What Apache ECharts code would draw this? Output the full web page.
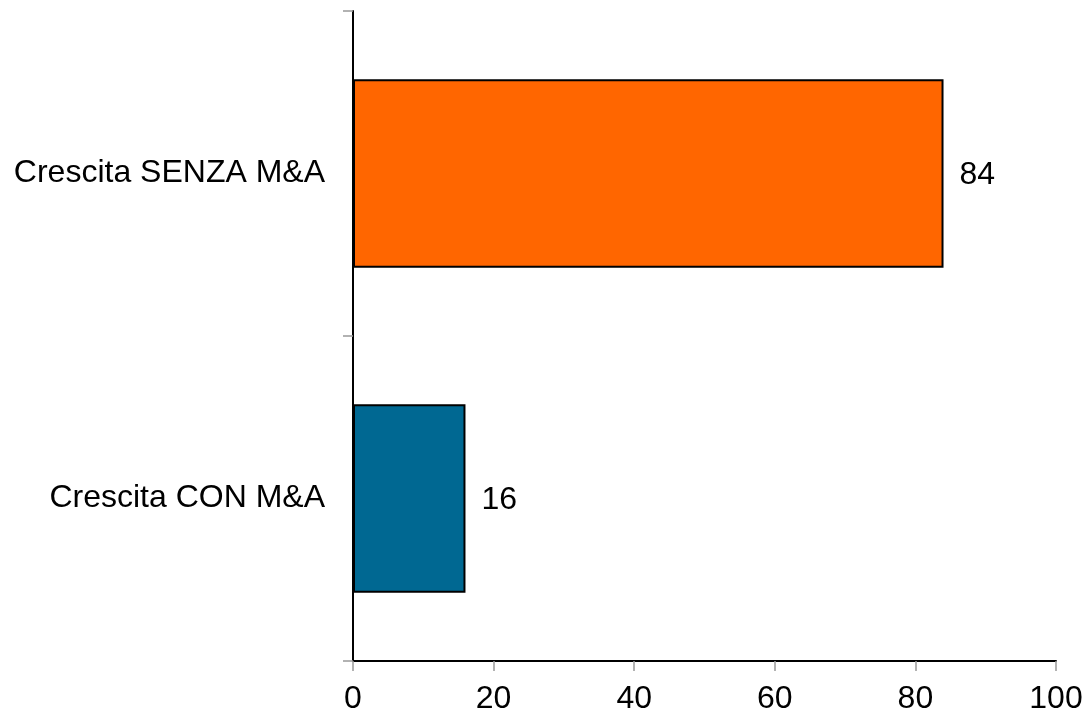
<!DOCTYPE html>
<html>
<head>
<meta charset="utf-8">
<script src="https://cdn.jsdelivr.net/npm/echarts@6/dist/echarts.min.js"></script>
<style>html,body{margin:0;padding:0;background:#fff}#c{width:1086px;height:715px}</style>
</head>
<body>
<div id="c"></div>
<script>
const categories = ["Crescita CON M&A", "Crescita SENZA M&A"];
const values = [16, 84];
const barColors = ["#006892", "#FF6600"];
const xTicks = [0, 20, 40, 60, 80, 100];

const chart = echarts.init(document.getElementById('c'));
const font = "Liberation Sans, Arial, Helvetica, sans-serif";
chart.setOption({
  animation: false,
  grid: { left: 353, right: 30, top: 11, bottom: 53, containLabel: false },
  xAxis: {
    type: 'value', min: xTicks[0], max: xTicks[xTicks.length - 1], interval: 20,
    axisLine: { show: true, lineStyle: { color: '#000', width: 2 } },
    axisTick: { show: true, length: 10, lineStyle: { color: '#999', width: 1.5 } },
    splitLine: { show: false },
    axisLabel: { fontFamily: font, fontSize: 32, color: '#000', margin: 22 }
  },
  yAxis: {
    type: 'category', data: categories,
    axisLine: { show: true, lineStyle: { color: '#000', width: 2 } },
    axisTick: { show: true, length: 10, lineStyle: { color: '#999', width: 1.5 } },
    axisLabel: { fontFamily: font, fontSize: 32, color: '#000', margin: 28 }
  },
  series: [{
    type: 'bar',
    data: values.map((v, i) => ({ value: v, itemStyle: { color: barColors[i] } })),
    barCategoryGap: '42%',
    itemStyle: { borderColor: '#000', borderWidth: 2 },
    label: { show: true, position: 'right', distance: 16, fontFamily: font, fontSize: 32, color: '#000', offset: [0, 2] }
  }]
});
</script>
</body>
</html>
